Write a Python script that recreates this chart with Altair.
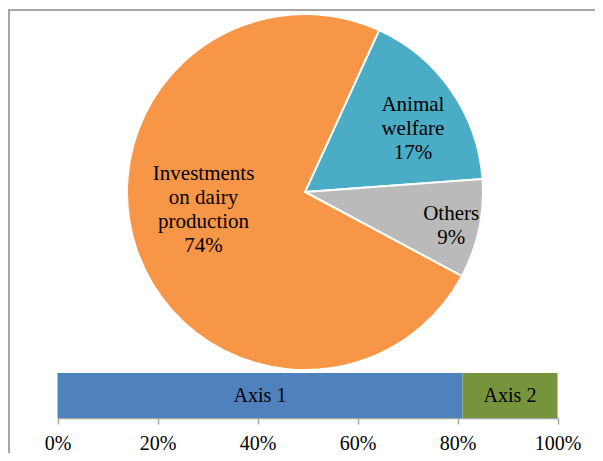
import math
import altair as alt
import pandas as pd

# ---- data ----
pie_labels = ["Animal welfare", "Others", "Investments on dairy production"]
pie_text = ["Animal\nwelfare", "Others", "Investments\non dairy\nproduction"]
pie_values = [17, 9, 74]
pie_colors = ["#4BACC6", "#BABABA", "#F79646"]

bar_labels = ["Axis 1", "Axis 2"]
bar_values = [81, 19]
bar_colors = ["#4F81BD", "#77933C"]
tick_values = [0, 0.2, 0.4, 0.6, 0.8, 1.0]

pie_df = pd.DataFrame({"cat": pie_labels, "txt": pie_text, "value": pie_values,
                       "ord": list(range(len(pie_labels)))})
bar_df = pd.DataFrame({"cat": bar_labels, "value": [v / 100 for v in bar_values],
                       "ord": list(range(len(bar_labels)))})

# ---- layout ----
W, H = 587, 410
CX, CY, R = 297, 184, 178
START = math.radians(24.6)
TWO_PI = 2 * math.pi
FONT = "Liberation Serif"
LH = 24

frame = alt.Chart(pd.DataFrame({"a": [0]})).mark_rect(
    fillOpacity=0, stroke="#a6a6a6", strokeWidth=2
).encode(x=alt.value(1), x2=alt.value(800), y=alt.value(2), y2=alt.value(800))

arc = alt.Chart(pie_df).mark_arc(radius=R, stroke="white", strokeWidth=2).encode(
    theta=alt.Theta("value:Q", stack=True,
                    scale=alt.Scale(range=[START, START + TWO_PI])),
    color=alt.Color("cat:N", scale=alt.Scale(domain=pie_labels, range=pie_colors),
                    legend=None),
    order=alt.Order("ord:Q"),
    x=alt.value(CX), y=alt.value(CY),
)

pie_text_layer = alt.Chart(pie_df).transform_window(
    cum="sum(value)", sort=[alt.SortField("ord")], frame=[None, 0]
).transform_joinaggregate(total="sum(value)").transform_calculate(
    shift="datum.cat == 'Others' ? 1 : (datum.cat == 'Animal welfare' ? 4.5 : 8.6)",
    r="datum.cat == 'Others' ? 150 : (datum.cat == 'Animal welfare' ? 125 : 103)",
    lab="datum.txt + '\\n' + datum.value + '%'",
).transform_calculate(
    ang=f"{START} + {TWO_PI} * (datum.cum - datum.value / 2) / datum.total + datum.shift * PI / 180",
    nl="split(datum.lab, '\\n').length",
).transform_calculate(
    px=f"{CX} + datum.r * sin(datum.ang)",
    py=f"{CY} - datum.r * cos(datum.ang) - (datum.nl - 1) * {LH} / 2",
).mark_text(font=FONT, fontSize=21, lineHeight=LH, lineBreak="\n",
            align="center", baseline="middle", color="#000000").encode(
    x=alt.X("px:Q", scale=None),
    y=alt.Y("py:Q", scale=None),
    text="lab:N",
)

xscale = alt.Scale(domain=[0, 1], range=[49.5, 549.5])

bar_base = alt.Chart(bar_df).transform_window(
    cum="sum(value)", sort=[alt.SortField("ord")], frame=[None, 0]
).transform_calculate(
    x0="datum.cum - datum.value", mid="datum.cum - datum.value / 2"
)

bar = bar_base.mark_bar().encode(
    x=alt.X("x0:Q", scale=xscale,
            axis=alt.Axis(format=".0%", values=tick_values, grid=False, title=None,
                          labelFlush=False, labelOverlap=False)),
    x2="cum:Q",
    y=alt.value(365), y2=alt.value(410),
    color=alt.Color("cat:N", scale=alt.Scale(domain=bar_labels, range=bar_colors),
                    legend=None),
)

bar_text = bar_base.mark_text(
    font=FONT, fontSize=20, align="center", baseline="middle", color="#000000"
).encode(x=alt.X("mid:Q", scale=xscale), y=alt.value(388), text="cat:N")

chart = alt.layer(frame, arc, pie_text_layer, bar, bar_text).resolve_scale(
    color="independent"
).properties(
    width=W, height=H,
    autosize=alt.AutoSizeParams(type="none"),
    padding={"left": 0, "top": 0, "right": 0, "bottom": 35},
    background="white",
).configure_view(stroke=None).configure_axis(
    labelFont=FONT, labelFontSize=20, labelColor="#000000",
    tickColor="#a6a6a6", domainColor="#a6a6a6", tickSize=6, labelPadding=9,
    domainWidth=1.5, tickWidth=1.5,
)

chart.save("out.html", embed_options={"renderer": "svg", "actions": False})
